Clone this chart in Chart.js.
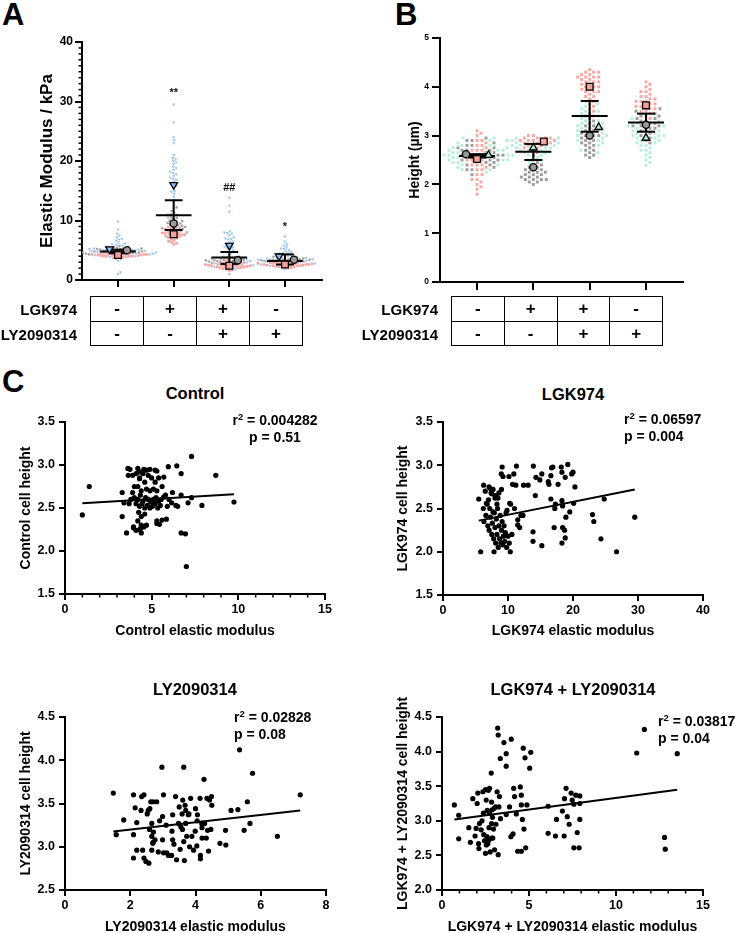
<!DOCTYPE html>
<html><head><meta charset="utf-8">
<script src="https://cdn.jsdelivr.net/npm/chart.js@4.4.1/dist/chart.umd.min.js"></script>
<style>
html,body{margin:0;padding:0;background:#fff;}
body{width:740px;height:933px;overflow:hidden;position:relative;font-family:"Liberation Sans",Arial,Helvetica,sans-serif;font-weight:bold;color:#000;}
.box{position:absolute;}
.txt{position:absolute;white-space:nowrap;line-height:1;}
.letter{font-size:31px;}
.ttl{font-size:16.5px;transform:translateX(-50%);}
.ann{font-size:14px;}
.ann .sup{font-size:9.5px;vertical-align:5px;line-height:0;}
.rowlab{font-size:15px;text-align:right;width:120px;}
table.tg{position:absolute;border-collapse:collapse;table-layout:fixed;}
table.tg td{border:1.5px solid #000;padding:0;height:23.5px;text-align:center;vertical-align:middle;font-size:17px;line-height:1;font-weight:bold;}
</style></head>
<body>
<div class="txt letter" style="left:2px;top:-1px;">A</div>
<div class="txt letter" style="left:395px;top:-1px;">B</div>
<div class="txt letter" style="left:2px;top:366px;">C</div>
<div id="charts"></div>
<div id="texts"></div>
<script>
// ================= DATA =================
const treatments = ['Control', 'LGK974', 'LGK974 + LY2090314', 'LY2090314'];
const lgkRow = ['-', '+', '+', '-'];
const lyRow  = ['-', '-', '+', '+'];

// Panel A: elastic modulus (kPa), three replicates, per treatment group
const modulusTicks = [0, 10, 20, 30, 40];
const modulusRep1 = [
  [4.2,4.0,4.4,3.9,4.6,4.1,4.3,3.8,4.5,4.2,4.0,4.7,4.3,3.7,4.4,4.1,4.6,4.2,3.9,4.5,4.3,4.0,4.8,4.2,4.4,4.1,3.6,4.3,4.5,4.0],
  [7.7,8.0,7.4,8.3,6.9,7.8,8.6,7.2,6.4,8.1,7.5,7.9,6.0,8.4,7.6,7.1,8.8,7.3,6.7,8.2,7.9,7.0,6.2,8.0,7.6,8.5,7.4,6.5,7.8,8.9],
  [2.4,2.1,2.7,1.9,2.5,2.3,2.9,2.0,2.6,2.2,3.1,1.7,2.5,2.8,2.3,2.0,2.6,2.4,3.3,1.8,2.2,2.7,2.5,2.1,2.4,2.9,2.3,1.6,2.6,2.2],
  [2.6,2.4,2.8,2.3,2.9,2.5,2.7,2.2,3.0,2.6,2.4,3.2,2.5,2.1,2.8,2.7,2.3,2.9,2.6,2.0,3.4,2.5,2.8,2.4,2.6,3.1,2.2,2.7,2.5,2.9]
];
const modulusRep2 = [
  [5.0,4.8,5.2,4.6,5.4,4.9,5.1,5.5,4.7,5.3,4.4,5.0,5.6,4.8,5.2,4.5,5.1,4.9,5.3,4.6,5.0,5.7,4.3,5.2,4.9],
  [9.5,9.0,10.2,8.6,9.8,11.0,9.2,8.8,10.5,9.6,11.6,8.4,9.9,10.8,9.3,12.2,8.9,10.0,9.7,11.3,9.1,10.4,8.7,9.4,10.9],
  [3.3,3.1,3.5,3.0,3.4,3.6,3.2,2.9,3.7,3.3,3.1,3.8,3.4,3.0,3.5,3.2,3.6,2.8,3.3,3.9],
  [3.4,3.2,3.6,3.1,3.5,3.7,3.3,3.0,3.8,3.4,3.2,3.5,3.9,3.3,3.6,3.1,3.4,3.7,3.5,3.3]
];
const modulusRep3 = [
  [5.2,4.8,6.0,4.5,5.5,6.8,3.9,5.0,7.2,4.2,5.8,6.3,3.5,4.9,5.3,7.8,4.6,6.6,5.1,8.5,4.0,5.6,3.2,6.1,9.8,4.4,1.3,5.9,4.7,1.0,5.4,6.9,4.3,5.0,7.5],
  [16,18.5,14,20,17,12.5,19,15.5,13,18,21,16.5,11,17.5,23,14.5,19.5,15,26.5,12,18.8,20.3,16.8,29.5,13.5,17.2,24,19.8,15.8,10.5,18.2,23.5,14.8,17.8,20.5],
  [5.8,7.5,4.2,6.5,3.5,8.0,5.0,2.8,6.9,4.6,7.8,3.0,5.4,13.8,6.2,1.8,7.2,4.0,11.5,5.6,2.2,6.8,12.5,3.8,7.9,5.2,1.0,6.0,4.8,7.0,3.2,8.2,5.5,2.5,6.4],
  [4.0,3.5,4.6,3.2,5.2,4.3,2.8,5.8,3.8,4.8,2.4,4.1,6.5,3.6,5.0,2.0,4.4,3.0,5.5,7.3,3.9,4.7,2.6,4.2,6.0,3.4,5.3,1.8,4.5,3.7]
];
const modulusMeanRep1 = [4.2, 7.7, 2.4, 2.6];
const modulusMeanRep2 = [5.0, 9.5, 3.3, 3.4];
const modulusMeanRep3 = [5.2, 16.0, 5.8, 4.0];
const modulusMean    = [4.8, 10.9, 3.8, 3.2];
const modulusErrLow  = [4.5, 8.4, 2.7, 2.6];
const modulusErrHigh = [5.1, 13.4, 4.7, 4.3];
const modulusSig     = ['', '**', '##', '*'];
const modulusSigAt   = [0, 31.5, 15.5, 8.9];

// Panel B: height (µm), three replicates
const heightTicks = [0, 1, 2, 3, 4, 5];
const heightRep1 = [
  [2.5,2.7,2.3,2.9,2.1,2.6,2.4,3.0,1.9,2.8,2.5,2.2,3.1,2.6,2.0,2.7,2.4,1.8,2.9,2.5,2.3,2.8,2.1,2.6,3.05,2.4,2.2,2.7,1.95,2.5,2.85,2.35,2.6,2.05,2.75],
  [2.9,2.85,2.95,2.8,3.0,2.75,2.9,2.85,2.95,2.7,2.9,2.8,3.0,2.85,2.65,2.95,2.9,2.8,2.85,2.95,2.75,2.9],
  [4.0,4.2,3.8,4.3,3.9,4.1,3.6,4.25,3.95,4.15,3.7,4.05,4.35,3.85,4.2,3.5,4.1,3.9,4.3,3.75,4.0,4.2,3.65,4.1,3.95,4.25,3.4,4.05,3.8,4.3,4.15,3.9,4.0,3.55,4.2],
  [3.6,3.7,3.5,3.8,3.9,3.55,3.65,4.0,3.45,3.75,3.85,3.6,3.4,3.95,3.7,4.1,3.5,3.65,3.8,3.35,3.9,3.6,3.75,4.05,3.55,3.7]
];
const heightRep2 = [
  [2.6,2.5,2.7,2.4,2.8,2.3,2.65,2.9,2.55,2.45,2.75,2.2,2.85,2.6,2.35,2.7,2.5,2.95,2.6,2.4,2.8,2.65,2.3,2.55,2.75,2.5,2.9,2.45,2.7,2.6],
  [2.35,2.2,2.1,2.4,2.15,2.05,2.3,2.25,2.5,2.1,2.2,2.0,2.35,2.15,2.45,2.25,2.1,2.3,2.05,2.2,2.6,2.15,2.4,2.25,2.1,2.3],
  [3.0,2.8,3.2,2.7,3.1,2.9,3.3,2.6,3.05,2.85,3.4,2.75,3.15,2.95,2.55,3.25,2.8,3.0,2.65,3.35,2.9,3.1,2.7,3.2,2.85,3.05,2.6,3.45,2.95,3.0],
  [3.2,3.3,3.1,3.4,3.0,3.25,3.15,3.5,2.9,3.35,3.05,3.2,3.45,2.85,3.3,3.1,3.55,3.2,2.95,3.4,3.15,3.25,3.0,3.35,3.2]
];
const heightRep3 = [
  [2.6,2.4,2.75,2.5,2.85,2.3,2.65,2.55,2.95,2.45,2.7,2.25,2.8,2.6,2.35,2.9,2.5,2.7,2.4,2.6,2.55,2.8,2.3,2.65,2.75,2.45,2.95,2.5,2.6,2.7],
  [2.75,2.8,2.65,2.9,2.7,2.55,2.85,2.6,2.95,2.75,2.5,2.8,2.7,2.65,2.9,2.45,2.85,2.75,2.6,2.95,2.7,2.8],
  [3.2,3.4,3.0,3.5,2.9,3.3,3.1,3.6,2.8,3.25,3.45,2.95,3.15,3.55,2.7,3.35,3.05,3.2,3.65,2.85,3.3,3.1,3.4,2.65,3.5,3.0,3.25,3.7,2.9,3.15],
  [2.95,3.1,2.8,3.2,2.7,3.0,2.9,3.3,2.6,3.05,2.85,2.5,3.15,2.75,3.25,2.45,3.0,2.9,2.65,3.35,2.8,3.1,2.55,2.95,3.0,2.7,3.2,2.4,2.85,3.05]
];
const heightMeanRep1 = [2.52, 2.88, 4.0, 3.62];
const heightMeanRep2 = [2.62, 2.35, 3.0, 3.22];
const heightMeanRep3 = [2.6, 2.75, 3.17, 2.95];
const heightMean    = [2.58, 2.67, 3.4, 3.27];
const heightErrLow  = [2.55, 2.5, 3.08, 3.08];
const heightErrHigh = [2.62, 2.83, 3.71, 3.45];

// Panel C: elastic modulus (x) vs cell height (y)
const controlPts = [[1.0,2.42],[1.4,2.75],[3.3,2.68],[3.3,2.40],[3.4,2.56],[3.55,2.21],[3.63,2.96],[3.65,2.88],[3.9,2.88],[3.95,2.28],[4.0,2.75],[4.2,2.96],[4.3,2.84],[4.3,2.25],[4.4,2.21],[4.7,2.94],[5.2,2.94],[5.3,2.35],[5.7,2.86],[5.85,2.37],[5.96,2.98],[6.15,2.56],[6.45,2.99],[6.4,2.53],[6.7,2.9],[6.7,2.65],[6.7,2.21],[6.95,2.2],[7.0,1.82],[7.1,2.56],[7.3,3.1],[7.3,2.62],[7.9,2.53],[8.7,2.88],[9.75,2.57],
  [4.1,2.9],[4.3,2.85],[4.5,2.9],[4.6,2.8],[4.8,2.88],[5.0,2.85],[5.2,2.8],[5.4,2.85],[4.2,2.75],[4.4,2.7],[4.7,2.72],[4.9,2.7],[5.1,2.72],[5.3,2.7],[5.6,2.75],[4.0,2.62],[4.2,2.6],[4.35,2.65],[4.5,2.58],[4.65,2.62],[4.8,2.6],[4.95,2.57],[5.1,2.6],[5.25,2.62],[5.4,2.58],[5.55,2.6],[5.7,2.63],[4.1,2.55],[4.3,2.52],[4.45,2.55],[4.6,2.5],[4.75,2.53],[4.9,2.5],[5.05,2.52],[5.2,2.55],[5.35,2.5],[5.5,2.53],[4.25,2.45],[4.4,2.4],[4.6,2.43],[4.2,2.35],[4.4,2.3],[3.95,2.27],[4.1,2.24],[4.35,2.26],[4.55,2.28],[4.7,2.3],[5.3,2.32],[5.45,2.31],[5.6,2.36],[3.9,2.68],[3.8,2.6],[3.7,2.55],[5.8,2.65],[6.0,2.6],[6.2,2.68],[5.9,2.52],[6.5,2.52],[4.9,2.95],[5.3,2.93],[4.55,2.95],[4.3,2.92],[3.75,2.95]];
const controlFitX = [1.0, 9.75];
const controlFitY = [2.555, 2.66];

const lgkPts = [[5.5,2.61],[5.8,2.0],[6.25,2.77],[6.2,2.5],[6.67,2.56],[7.08,2.75],[7.3,2.73],[7.49,2.67],[7.69,2.46],[7.85,2.0],[8.1,2.65],[8.46,2.62],[9.1,2.98],[8.97,2.90],[9.23,2.87],[9.85,2.48],[10.15,2.87],[10.26,2.56],[10.35,2.0],[10.7,2.78],[10.9,2.9],[11.3,2.99],[11.2,2.77],[11.5,2.37],[11.5,2.31],[12.3,2.42],[12.4,2.77],[13.1,2.77],[13.9,2.99],[13.85,2.23],[13.85,2.12],[14.2,2.65],[14.3,2.86],[14.9,2.83],[15.2,2.9],[15.2,2.07],[16.2,2.81],[16.3,2.78],[16.6,2.61],[16.6,2.88],[16.7,2.97],[16.9,2.98],[17.1,2.28],[17.2,2.5],[17.3,2.55],[17.7,2.78],[18.2,2.98],[18.3,2.92],[18.3,2.59],[18.4,2.53],[18.4,2.28],[18.7,2.25],[18.3,2.1],[18.8,2.86],[18.8,2.16],[18.9,2.4],[19.2,3.01],[19.5,2.46],[19.8,2.9],[20.0,2.92],[20.1,2.56],[20.3,2.75],[23.0,2.43],[23.2,2.35],[24.3,2.15],[24.8,2.61],[26.7,2.0],[29.5,2.4],
  [6.3,2.35],[6.6,2.42],[6.9,2.3],[7.1,2.25],[7.3,2.4],[7.5,2.2],[7.6,2.33],[7.8,2.15],[7.9,2.45],[8.0,2.28],[8.1,2.1],[8.2,2.38],[8.3,2.2],[8.4,2.5],[8.5,2.05],[8.6,2.3],[8.7,2.15],[8.8,2.42],[8.9,2.1],[9.0,2.25],[9.1,2.35],[9.2,2.08],[9.3,2.18],[9.4,2.3],[9.5,2.12],[9.6,2.22],[9.8,2.05],[10.0,2.18],[10.2,2.1],[7.0,2.6],[7.4,2.68],[7.7,2.72],[8.0,2.62],[8.3,2.55],[8.6,2.68],[9.0,2.72],[7.2,2.5],[6.8,2.55],[6.5,2.7],[9.7,2.45],[10.4,2.55],[10.6,2.2],[11.0,2.5],[11.8,2.28],[12.0,2.42]];
const lgkFitX = [5.5, 29.5];
const lgkFitY = [2.36, 2.72];

const lyPts = [[1.48,3.62],[1.57,3.14],[1.8,3.31],[2.1,3.6],[2.1,3.14],[2.1,2.87],[2.15,3.45],[2.2,2.96],[2.2,3.28],[2.33,3.42],[2.35,3.58],[2.38,2.96],[2.42,3.6],[2.42,2.87],[2.48,2.83],[2.52,3.38],[2.55,3.42],[2.57,2.81],[2.59,3.2],[2.6,3.44],[2.63,3.52],[2.66,3.12],[2.66,2.96],[2.66,3.27],[2.69,3.04],[2.7,3.52],[2.71,3.17],[2.76,3.08],[2.81,3.52],[2.86,2.94],[2.97,3.92],[2.99,3.35],[2.99,3.08],[3.02,3.6],[3.02,2.93],[3.12,2.93],[3.17,2.90],[3.27,2.9],[3.28,3.18],[3.3,3.37],[3.34,3.03],[3.39,3.58],[3.42,2.85],[3.48,3.27],[3.5,3.46],[3.53,2.97],[3.55,3.23],[3.59,3.38],[3.61,3.54],[3.64,3.92],[3.66,2.84],[3.64,3.06],[3.68,3.48],[3.70,3.27],[3.73,3.12],[3.78,3.37],[3.82,3.0],[3.85,3.56],[3.89,3.12],[3.94,2.96],[3.99,3.18],[4.0,3.44],[4.04,3.01],[4.06,3.37],[4.14,3.56],[4.15,2.9],[4.15,2.86],[4.19,3.27],[4.20,3.10],[4.26,3.78],[4.28,3.27],[4.33,3.10],[4.35,3.56],[4.37,3.19],[4.4,2.95],[4.43,3.54],[4.47,3.2],[4.49,3.58],[4.5,3.48],[4.75,3.04],[4.92,3.19],[4.93,3.02],[5.09,3.42],[5.3,3.43],[5.35,4.12],[5.49,3.19],[5.59,3.52],[5.67,3.27],[5.75,3.85],[6.51,3.12],[7.21,3.6],
  [3.1,3.25],[3.6,3.2],[2.9,3.3],[3.8,3.38],[4.2,3.22],[3.3,3.08],[2.7,3.05],[3.7,3.42],[4.05,3.3]];
const lyFitX = [1.48, 7.21];
const lyFitY = [3.175, 3.42];

const combPts = [[0.71,3.23],[0.96,3.08],[0.96,2.74],[1.54,2.9],[1.63,2.69],[1.77,3.32],[1.9,2.78],[1.96,2.89],[2.02,3.25],[2.06,3.4],[2.1,2.67],[2.12,2.6],[2.15,2.96],[2.25,2.87],[2.35,3.42],[2.38,3.11],[2.44,2.71],[2.5,3.45],[2.54,3.30],[2.58,2.77],[2.63,2.67],[2.5,2.53],[2.67,3.44],[2.69,2.72],[2.73,3.11],[2.73,3.47],[2.77,2.55],[2.83,3.69],[2.85,3.27],[2.85,2.96],[2.88,3.16],[2.92,2.75],[2.96,2.88],[3.02,2.58],[3.08,3.20],[3.17,3.42],[3.2,4.34],[3.23,4.24],[3.23,2.51],[3.27,3.20],[3.3,3.35],[3.35,3.9],[3.36,3.03],[3.56,4.13],[3.69,3.97],[3.69,3.09],[3.69,3.79],[3.88,3.20],[3.98,4.18],[3.96,2.77],[4.08,2.81],[4.12,3.47],[4.17,3.35],[4.27,3.1],[4.35,2.56],[4.56,2.56],[4.5,3.49],[4.56,3.37],[4.56,3.23],[4.62,3.02],[4.67,4.05],[4.71,2.88],[4.77,3.91],[4.81,2.61],[4.88,3.23],[5.04,3.76],[5.1,3.99],[6.1,3.21],[6.1,2.82],[6.52,2.78],[6.58,3.02],[6.92,3.14],[7.04,3.32],[7.02,2.78],[7.13,3.47],[7.2,3.06],[7.31,2.95],[7.42,3.4],[7.48,3.3],[7.58,3.24],[7.58,2.61],[7.69,3.37],[7.77,2.83],[7.88,2.61],[7.92,3.36],[7.92,3.25],[7.92,3.02],[11.19,3.98],[11.63,4.32],[12.79,2.76],[12.83,2.59],[13.52,3.97],
  [2.3,3.0],[2.6,3.15],[2.9,3.05],[2.4,2.8],[2.7,2.9],[3.0,3.18],[2.55,2.65],[2.85,2.75],[3.1,2.95]];
const combFitX = [0.71, 13.52];
const combFitY = [3.02, 3.45];

// ================= RENDERING =================
const FONT = "'Liberation Sans', Arial, Helvetica, sans-serif";
Chart.defaults.font.family = FONT;
Chart.defaults.font.weight = 'bold';
Chart.defaults.color = '#000';

const minorTicks = {
  id: 'minorTicks',
  afterDraw(chart, args, o) {
    const ctx = chart.ctx;
    (o.list || []).forEach(m => {
      const s = chart.scales[m.axis];
      ctx.save();
      ctx.strokeStyle = '#000';
      ctx.lineWidth = m.width || 1.5;
      const n = Math.round((m.to - m.from) / m.step);
      for (let i = 0; i <= n; i++) {
        const v = m.from + i * m.step;
        if (m.skip && Math.abs(v / m.skip - Math.round(v / m.skip)) < 1e-6) continue;
        const p = s.getPixelForValue(v);
        ctx.beginPath();
        if (m.axis === 'y') { ctx.moveTo(s.right - m.len, p); ctx.lineTo(s.right, p); }
        else { ctx.moveTo(p, s.top); ctx.lineTo(p, s.top + m.len); }
        ctx.stroke();
      }
      ctx.restore();
    });
  }
};
const marks = {
  id: 'marks',
  afterDatasetsDraw(chart, args, o) {
    const ctx = chart.ctx;
    (o.items || []).forEach(it => {
      if (!it.text) return;
      ctx.save();
      ctx.font = 'bold ' + (o.size || 11) + 'px ' + FONT;
      ctx.fillStyle = '#111';
      ctx.textAlign = 'center';
      ctx.textBaseline = 'middle';
      ctx.fillText(it.text, chart.scales.x.getPixelForValue(it.x), chart.scales.y.getPixelForValue(it.y));
      ctx.restore();
    });
  }
};
Chart.register(minorTicks, marks);

function swarm(vals, pxPerY, d) {
  const idx = vals.map((v, i) => i).sort((a, b) => vals[a] - vals[b]);
  const placed = [];
  const off = new Array(vals.length).fill(0);
  idx.forEach(i => {
    const y = vals[i] * pxPerY;
    for (let k = 0; k < 800; k++) {
      const c = k === 0 ? 0 : (k % 2 ? 1 : -1) * Math.ceil(k / 2) * 0.5;
      let ok = true;
      for (const p of placed) {
        const dy = y - p.y;
        if (dy >= d || dy <= -d) continue;
        const dx = c - p.x;
        if (dx * dx + dy * dy < d * d) { ok = false; break; }
      }
      if (ok) { off[i] = c; placed.push({ x: c, y }); break; }
    }
  });
  return off;
}

function makeChart(c, datasets) {
  const [bl, bt, bw, bh] = c.box;
  const [L, T, R, B] = c.area;
  const yLH = c.yTitleSize * 1.2;
  const padLeft = c.yTitleCx - bl - yLH / 2;
  const yW = L - bl - padLeft;
  const scaleBottom = c.xTitle ? c.xTitleCy + c.xTitleSize * 1.2 / 2 : B + 14;
  const xH = scaleBottom - B;
  const padBottom = bt + bh - scaleBottom;
  const padTop = T - bt;
  const padRight = bl + bw - R;

  const holder = document.createElement('div');
  holder.className = 'box';
  holder.style.left = bl + 'px'; holder.style.top = bt + 'px';
  holder.style.width = bw + 'px'; holder.style.height = bh + 'px';
  const cv = document.createElement('canvas');
  cv.width = bw; cv.height = bh;
  cv.style.width = bw + 'px'; cv.style.height = bh + 'px';
  holder.appendChild(cv);
  document.getElementById('charts').appendChild(holder);

  const tickFont = { size: c.tickSize, weight: 'bold', family: FONT };
  new Chart(cv.getContext('2d'), {
    type: 'scatter',
    data: { datasets },
    options: {
      responsive: false, animation: false, events: [],
      layout: { padding: { left: padLeft, top: padTop, right: padRight, bottom: padBottom } },
      plugins: {
        legend: { display: false }, tooltip: { enabled: false }, title: { display: false },
        minorTicks: { list: c.minor || [] },
        marks: { items: c.marks || [], size: 11 }
      },
      scales: {
        x: {
          type: 'linear', position: 'bottom', min: c.xmin, max: c.xmax,
          afterBuildTicks: s => { s.ticks = c.xticks.map(v => ({ value: v })); },
          afterFit: s => { s.height = xH; s.paddingLeft = 0; s.paddingRight = 0; },
          ticks: { display: !!c.xLabels, font: tickFont, color: '#000', padding: c.xTickPad || 0,
                   maxRotation: 0, minRotation: 0, autoSkip: false, callback: v => String(v) },
          grid: { drawOnChartArea: false, drawTicks: true, tickLength: c.xTL, color: '#000', lineWidth: 2 },
          border: { display: true, color: '#000', width: 2 },
          title: c.xTitle ? { display: true, text: c.xTitle, color: '#000', padding: 0,
                   font: { size: c.xTitleSize, weight: 'bold', family: FONT } } : { display: false }
        },
        y: {
          type: 'linear', position: 'left', min: c.ymin, max: c.ymax,
          afterBuildTicks: s => { s.ticks = c.yticks.map(v => ({ value: v })); },
          afterFit: s => { s.width = yW; s.paddingTop = 0; s.paddingBottom = 0; },
          ticks: { font: tickFont, color: '#000', padding: c.yTickPad, autoSkip: false,
                   callback: c.yfmt || (v => String(v)) },
          grid: { drawOnChartArea: false, drawTicks: true, tickLength: c.yTL, color: '#000', lineWidth: 2 },
          border: { display: true, color: '#000', width: 2 },
          title: { display: true, text: c.yTitle, color: '#000', padding: 0,
                   font: { size: c.yTitleSize, weight: 'bold', family: FONT } }
        }
      }
    }
  });
}

function superDatasets(c) {
  const pxX = (c.area[2] - c.area[0]) / (c.xmax - c.xmin);
  const pxY = (c.area[3] - c.area[1]) / (c.ymax - c.ymin);
  const dotSets = c.reps.map(() => []);
  for (let g = 0; g < treatments.length; g++) {
    const vals = [], who = [];
    c.reps.forEach((rep, r) => rep[g].forEach(v => { vals.push(v); who.push(r); }));
    const off = swarm(vals, pxY, c.dotGap);
    vals.forEach((v, i) => dotSets[who[i]].push({ x: g + off[i] / pxX, y: v }));
  }
  const meanSets = c.repMeans.map(() => []);
  for (let g = 0; g < treatments.length; g++) {
    const vals = c.repMeans.map(m => m[g]);
    const off = swarm(vals, pxY, c.meanGap);
    vals.forEach((v, r) => meanSets[r].push({ x: g + off[r] / pxX, y: v }));
  }
  const ds = [];
  dotSets.forEach((d, r) => ds.push({
    data: d, pointStyle: c.dotStyle[r][0], pointRadius: c.dotStyle[r][1], pointRotation: c.dotStyle[r][2] || 0,
    pointBackgroundColor: c.dotColor[r], pointBorderWidth: 0, pointHoverRadius: 0, order: 3
  }));
  const seg = pts => ({ data: pts, showLine: true, pointRadius: 0, pointHoverRadius: 0,
                        borderColor: '#000', borderWidth: 2, order: 2 });
  for (let g = 0; g < treatments.length; g++) {
    const m = c.mean[g], lo = c.lo[g], hi = c.hi[g];
    ds.push(seg([{ x: g - 0.32, y: m }, { x: g + 0.32, y: m }]));
    ds.push(seg([{ x: g, y: lo }, { x: g, y: hi }]));
    ds.push(seg([{ x: g - 0.16, y: lo }, { x: g + 0.16, y: lo }]));
    ds.push(seg([{ x: g - 0.16, y: hi }, { x: g + 0.16, y: hi }]));
  }
  meanSets.forEach((d, r) => ds.push({
    data: d, pointStyle: c.meanStyle[r][0], pointRadius: c.meanStyle[r][1], pointRotation: c.meanStyle[r][2] || 0,
    pointBackgroundColor: c.meanColor[r], pointBorderColor: '#000', pointBorderWidth: 1.3, pointHoverRadius: 0, order: 1
  }));
  return ds;
}

// ----- Panel A -----
const cfgA = {
  box: [0, 30, 340, 270], area: [82, 42, 322, 280],
  xmin: -0.647, xmax: 3.665, ymin: 0, ymax: 40,
  xticks: [0, 1, 2, 3], yticks: modulusTicks,
  yTitle: 'Elastic Modulus / kPa', yTitleSize: 17, yTitleCx: 47,
  tickSize: 12, yTL: 7, yTickPad: 2, xTL: 7, xLabels: false,
  minor: [{ axis: 'y', from: 0, to: 40, step: 1, skip: 10, len: 3.5 }],
  marks: modulusSig.map((t, i) => ({ text: t, x: i, y: modulusSigAt[i] })),
  reps: [modulusRep1, modulusRep2, modulusRep3],
  repMeans: [modulusMeanRep1, modulusMeanRep2, modulusMeanRep3],
  mean: modulusMean, lo: modulusErrLow, hi: modulusErrHigh,
  dotGap: 3.0, meanGap: 10,
  dotStyle: [['rect', 1.9], ['circle', 1.3], ['triangle', 1.9, 180]],
  dotColor: ['#f4a6a4', '#a3a3a3', '#9cc4f0'],
  meanStyle: [['rect', 4.8], ['circle', 3.6], ['triangle', 4.4, 180]],
  meanColor: ['#f3a09e', '#9a9a9a', '#8dbfee']
};
makeChart(cfgA, superDatasets(cfgA));

// ----- Panel B -----
const cfgB = {
  box: [370, 30, 340, 270], area: [440, 38, 683, 282],
  xmin: -0.657, xmax: 3.657, ymin: 0, ymax: 5,
  xticks: [0, 1, 2, 3], yticks: heightTicks,
  yTitle: 'Height (µm)', yTitleSize: 14, yTitleCx: 415,
  tickSize: 8.5, yTL: 8, yTickPad: 3, xTL: 8, xLabels: false,
  reps: [heightRep1, heightRep2, heightRep3],
  repMeans: [heightMeanRep1, heightMeanRep2, heightMeanRep3],
  mean: heightMean, lo: heightErrLow, hi: heightErrHigh,
  dotGap: 4.6, meanGap: 12,
  dotStyle: [['rect', 2.1], ['rect', 2.1], ['rect', 2.1]],
  dotColor: ['#f9a7a2', '#9d9d9d', '#b6efdc'],
  meanStyle: [['rect', 4.8], ['circle', 3.6], ['triangle', 4.4]],
  meanColor: ['#f7a19c', '#999999', '#b0edd6']
};
makeChart(cfgB, superDatasets(cfgB));

// ----- Panel C -----
function scatterSets(pts, fx, fy) {
  return [
    { data: pts.map(p => ({ x: p[0], y: p[1] })), pointStyle: 'circle', pointRadius: 2.6,
      pointBackgroundColor: '#000', pointBorderWidth: 0, pointHoverRadius: 0, order: 2 },
    { data: [{ x: fx[0], y: fy[0] }, { x: fx[1], y: fy[1] }], showLine: true, pointRadius: 0,
      pointHoverRadius: 0, borderColor: '#000', borderWidth: 2, order: 1 }
  ];
}
const fmt1 = v => v.toFixed(1);
const cCommon = { tickSize: 12.5, yTL: 6, yTickPad: 4, xTL: 6, xTickPad: 2.5, xLabels: true,
                  yTitleSize: 14, xTitleSize: 14, yfmt: fmt1 };

makeChart(Object.assign({}, cCommon, {
  box: [0, 405, 350, 240], area: [65, 422, 325, 594],
  xmin: 0, xmax: 15, ymin: 1.5, ymax: 3.5, xticks: [0, 5, 10, 15], yticks: [1.5, 2.0, 2.5, 3.0, 3.5],
  yTitle: 'Control cell height', yTitleCx: 26, xTitle: 'Control elastic modulus', xTitleCy: 631,
  minor: [{ axis: 'x', from: 0, to: 15, step: 1, skip: 5, len: 3.5 }]
}), scatterSets(controlPts, controlFitX, controlFitY));

makeChart(Object.assign({}, cCommon, {
  box: [370, 405, 350, 240], area: [443, 422, 703, 595],
  xmin: 0, xmax: 40, ymin: 1.5, ymax: 3.5, xticks: [0, 10, 20, 30, 40], yticks: [1.5, 2.0, 2.5, 3.0, 3.5],
  yTitle: 'LGK974 cell height', yTitleCx: 403, xTitle: 'LGK974 elastic modulus', xTitleCy: 631
}), scatterSets(lgkPts, lgkFitX, lgkFitY));

makeChart(Object.assign({}, cCommon, {
  box: [0, 690, 350, 250], area: [65, 717, 326, 890],
  xmin: 0, xmax: 8, ymin: 2.5, ymax: 4.5, xticks: [0, 2, 4, 6, 8], yticks: [2.5, 3.0, 3.5, 4.0, 4.5],
  yTitle: 'LY2090314 cell height', yTitleCx: 26, xTitle: 'LY2090314 elastic modulus', xTitleCy: 927
}), scatterSets(lyPts, lyFitX, lyFitY));

makeChart(Object.assign({}, cCommon, {
  box: [370, 690, 350, 250], area: [442, 717, 703, 890],
  xmin: 0, xmax: 15, ymin: 2.0, ymax: 4.5, xticks: [0, 5, 10, 15], yticks: [2.0, 2.5, 3.0, 3.5, 4.0, 4.5],
  yTitle: 'LGK974 + LY2090314 cell height', yTitleCx: 403,
  xTitle: 'LGK974 + LY2090314 elastic modulus', xTitleCy: 927,
  minor: [{ axis: 'x', from: 0, to: 15, step: 1, skip: 5, len: 3.5 }]
}), scatterSets(combPts, combFitX, combFitY));

// ----- HTML text: tables, titles, annotations -----
const texts = document.getElementById('texts');
function addTxt(html, cls, style) {
  const d = document.createElement('div');
  d.className = 'txt ' + cls;
  d.innerHTML = html;
  Object.assign(d.style, style);
  texts.appendChild(d);
}
function addTable(left, top, width, labelRight) {
  const t = document.createElement('table');
  t.className = 'tg';
  t.style.left = left + 'px'; t.style.top = top + 'px'; t.style.width = width + 'px';
  [lgkRow, lyRow].forEach(row => {
    const tr = document.createElement('tr');
    row.forEach(s => { const td = document.createElement('td'); td.textContent = s; tr.appendChild(td); });
    t.appendChild(tr);
  });
  texts.appendChild(t);
  addTxt('LGK974', 'rowlab', { left: (labelRight - 120) + 'px', top: (top + 5.5) + 'px' });
  addTxt('LY2090314', 'rowlab', { left: (labelRight - 120) + 'px', top: (top + 30.5) + 'px' });
}
addTable(90, 296, 213, 77);
addTable(451, 296, 212, 438);

addTxt('Control', 'ttl', { left: '195px', top: '385px' });
addTxt('LGK974', 'ttl', { left: '573px', top: '386px' });
addTxt('LY2090314', 'ttl', { left: '195px', top: '681px' });
addTxt('LGK974 + LY2090314', 'ttl', { left: '573px', top: '681px' });

const r2 = v => 'r<span class="sup">2</span> = ' + v;
addTxt(r2('0.004282') + '<br><span style="display:inline-block;margin-top:3px">p = 0.51</span>', 'ann',
       { left: '275px', top: '413px', transform: 'translateX(-50%)', textAlign: 'center' });
addTxt(r2('0.06597') + '<br><span style="display:inline-block;margin-top:3px">p = 0.004</span>', 'ann',
       { left: '624px', top: '412px' });
addTxt(r2('0.02828') + '<br><span style="display:inline-block;margin-top:3px">p = 0.08</span>', 'ann',
       { left: '234px', top: '710px' });
addTxt(r2('0.03817') + '<br><span style="display:inline-block;margin-top:3px">p = 0.04</span>', 'ann',
       { left: '658px', top: '714px' });
</script>
</body></html>
